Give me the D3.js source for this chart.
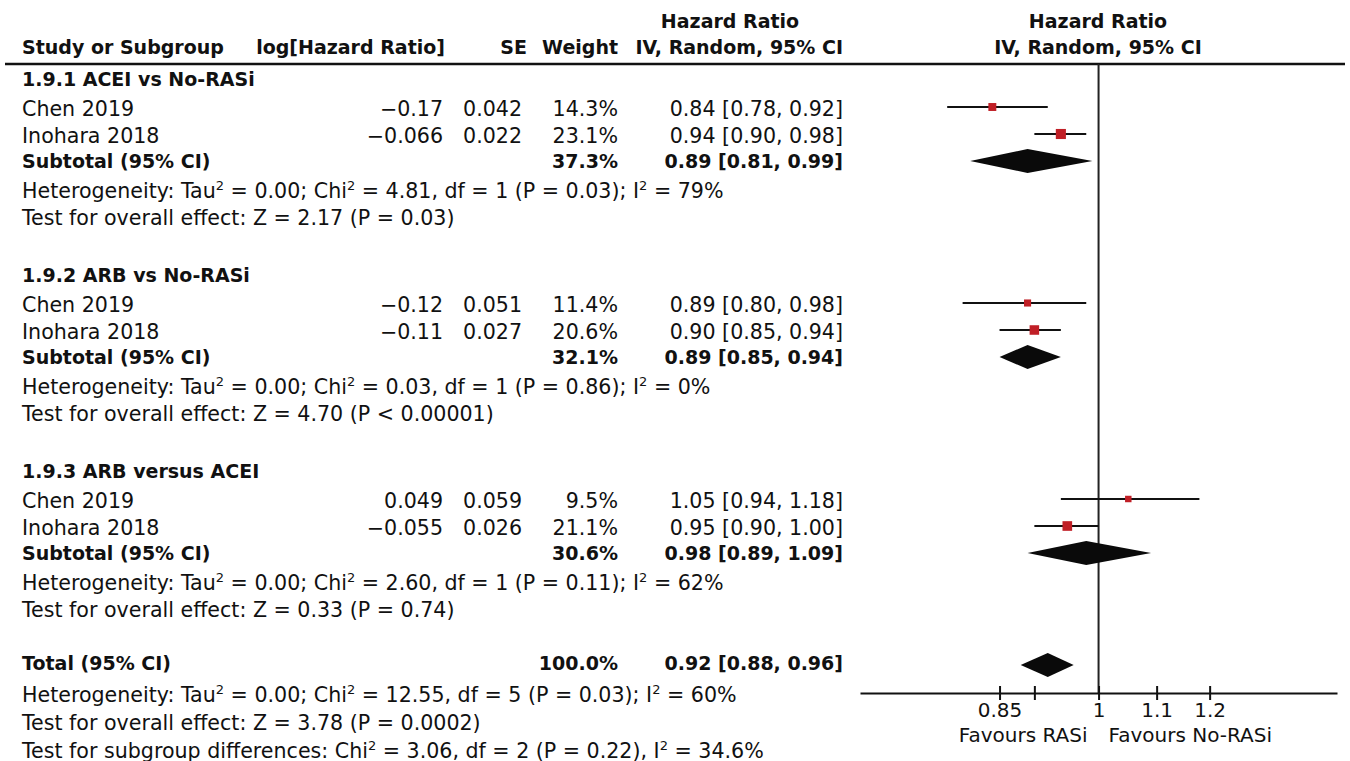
<!DOCTYPE html>
<html>
<head>
<meta charset="utf-8">
<script src="https://cdn.jsdelivr.net/npm/d3@7"></script>
<style>
  body { margin: 0; background: #fff; }
  svg text { font-family: "DejaVu Sans", sans-serif; fill: #111; }
  .bold { font-weight: bold; }
</style>
</head>
<body>
<svg id="chart"></svg>
<script>
// ---- data ----
var groupNames = ["1.9.1 ACEI vs No-RASi", "1.9.2 ARB vs No-RASi", "1.9.3 ARB versus ACEI"];
var studyNames = ["Chen 2019", "Inohara 2018"];
var logHR   = [["-0.17", "-0.066"], ["-0.12", "-0.11"], ["0.049", "-0.055"]];
var seVals  = [["0.042", "0.022"], ["0.051", "0.027"], ["0.059", "0.026"]];
var weights = [[14.3, 23.1], [11.4, 20.6], [9.5, 21.1]];
var hr      = [[0.84, 0.94], [0.89, 0.90], [1.05, 0.95]];
var hrLow   = [[0.78, 0.90], [0.80, 0.85], [0.94, 0.90]];
var hrHigh  = [[0.92, 0.98], [0.98, 0.94], [1.18, 1.00]];

var subWeight = [37.3, 32.1, 30.6];
var subHR     = [0.89, 0.89, 0.98];
var subLow    = [0.81, 0.85, 0.89];
var subHigh   = [0.99, 0.94, 1.09];
var subHet = [
  "Heterogeneity: Tau^2 = 0.00; Chi^2 = 4.81, df = 1 (P = 0.03); I^2 = 79%",
  "Heterogeneity: Tau^2 = 0.00; Chi^2 = 0.03, df = 1 (P = 0.86); I^2 = 0%",
  "Heterogeneity: Tau^2 = 0.00; Chi^2 = 2.60, df = 1 (P = 0.11); I^2 = 62%"
];
var subEffect = [
  "Test for overall effect: Z = 2.17 (P = 0.03)",
  "Test for overall effect: Z = 4.70 (P < 0.00001)",
  "Test for overall effect: Z = 0.33 (P = 0.74)"
];

var totalWeight = 100.0, totalHR = 0.92, totalLow = 0.88, totalHigh = 0.96;
var totalNotes = [
  "Heterogeneity: Tau^2 = 0.00; Chi^2 = 12.55, df = 5 (P = 0.03); I^2 = 60%",
  "Test for overall effect: Z = 3.78 (P = 0.0002)",
  "Test for subgroup differences: Chi^2 = 3.06, df = 2 (P = 0.22), I^2 = 34.6%"
];

var axisTicks  = [0.85, 0.9, 1, 1.1, 1.2];
var axisLabels = ["0.85", "", "1", "1.1", "1.2"];
var favours = ["Favours RASi", "Favours No-RASi"];

// ---- layout ----
var w = 1350, h = 761;
var fs = 20.6, fsBold = 19;
var col = { study: 22, logHR: 443, se: 522, weight: 618, ci: 843 };
var axisY = 693, ruleY = 64;
var red = "#c01f26";

var svg = d3.select("#chart").attr("width", w).attr("height", h);

var x = d3.scaleLog().domain([0.676, 1.479]).range([860, 1337]);

var fmtW = d3.format(".1f");
function ci(m, lo, hi) { return m.toFixed(2) + " [" + lo.toFixed(2) + ", " + hi.toFixed(2) + "]"; }
function minus(s) { return s.replace("-", "\u2212"); }

// text with "^2" written as a raised small 2
function addText(str, xx, yy, anchor, bold, size) {
  var t = svg.append("text")
    .attr("x", xx).attr("y", yy)
    .attr("text-anchor", anchor || "start")
    .style("font-size", (size || (bold ? fsBold : fs)) + "px");
  if (bold) t.attr("class", "bold");
  var parts = str.split("^2");
  parts.forEach(function(p, i) {
    var s = t.append("tspan").text(p);
    if (i > 0) s.attr("dy", 8);
    if (i < parts.length - 1) {
      t.append("tspan").attr("dy", -8).style("font-size", "13px").text("2");
    }
  });
  return t;
}

// header
addText("Hazard Ratio", 730, 28, "middle", true);
addText("Hazard Ratio", 1098, 28, "middle", true);
addText("Study or Subgroup", col.study, 54, "start", true);
addText("log[Hazard Ratio]", 445, 54, "end", true);
addText("SE", 527, 54, "end", true);
addText("Weight", col.weight, 54, "end", true);
addText("IV, Random, 95% CI", col.ci, 54, "end", true);
addText("IV, Random, 95% CI", 1098, 54, "middle", true);

svg.append("line")
  .attr("x1", 5).attr("x2", 1345).attr("y1", ruleY).attr("y2", ruleY)
  .attr("stroke", "#111").attr("stroke-width", 2.5);

// rows
var studies = [], subtotals = [];
groupNames.forEach(function(g, gi) {
  var base = 86 + gi * 196;
  addText(g, col.study, base, "start", true);
  studyNames.forEach(function(s, si) {
    var yy = base + 30 + si * 27;
    addText(s, col.study, yy);
    addText(minus(logHR[gi][si]), col.logHR, yy, "end");
    addText(seVals[gi][si], col.se, yy, "end");
    addText(fmtW(weights[gi][si]) + "%", col.weight, yy, "end");
    addText(ci(hr[gi][si], hrLow[gi][si], hrHigh[gi][si]), col.ci, yy, "end");
    studies.push({ y: yy - 9, hr: hr[gi][si], lo: hrLow[gi][si], hi: hrHigh[gi][si], w: weights[gi][si] });
  });
  var sy = base + 82;
  addText("Subtotal (95% CI)", col.study, sy, "start", true);
  addText(fmtW(subWeight[gi]) + "%", col.weight, sy, "end", true);
  addText(ci(subHR[gi], subLow[gi], subHigh[gi]), col.ci, sy, "end", true);
  subtotals.push({ y: sy - 7, hr: subHR[gi], lo: subLow[gi], hi: subHigh[gi] });
  addText(subHet[gi], col.study, base + 112);
  addText(subEffect[gi], col.study, base + 139);
});

var ty = 86 + 2 * 196 + 139 + 53;
addText("Total (95% CI)", col.study, ty, "start", true);
addText(fmtW(totalWeight) + "%", col.weight, ty, "end", true);
addText(ci(totalHR, totalLow, totalHigh), col.ci, ty, "end", true);
subtotals.push({ y: ty - 5, hr: totalHR, lo: totalLow, hi: totalHigh });
totalNotes.forEach(function(n, i) { addText(n, col.study, ty + 32 + i * 28); });

// line of no effect
svg.append("line")
  .attr("x1", x(1)).attr("x2", x(1)).attr("y1", ruleY).attr("y2", axisY)
  .attr("stroke", "#222").attr("stroke-width", 2);

// study CIs and squares
svg.selectAll(".ci").data(studies).enter().append("line")
  .attr("x1", function(d) { return x(d.lo); })
  .attr("x2", function(d) { return x(d.hi); })
  .attr("y1", function(d) { return d.y; })
  .attr("y2", function(d) { return d.y; })
  .attr("stroke", "#111").attr("stroke-width", 1.8);

svg.selectAll(".sq").data(studies).enter().append("rect")
  .attr("x", function(d) { return x(d.hr) - 1.05 * Math.sqrt(d.w); })
  .attr("y", function(d) { return d.y - 1.05 * Math.sqrt(d.w); })
  .attr("width", function(d) { return 2.1 * Math.sqrt(d.w); })
  .attr("height", function(d) { return 2.1 * Math.sqrt(d.w); })
  .attr("fill", red);

// diamonds
svg.selectAll(".dia").data(subtotals).enter().append("path")
  .attr("d", function(d) {
    return "M" + x(d.lo) + "," + d.y + "L" + x(d.hr) + "," + (d.y - 12) +
      "L" + x(d.hi) + "," + d.y + "L" + x(d.hr) + "," + (d.y + 12) + "Z";
  })
  .attr("fill", "#0a0a0a");

// axis
var axis = svg.append("g")
  .attr("transform", "translate(0," + axisY + ")")
  .call(d3.axisBottom(x)
    .tickValues(axisTicks)
    .tickFormat(function(d, i) { return axisLabels[i]; })
    .tickSizeInner(7).tickSizeOuter(0).tickPadding(3));
axis.select(".domain").attr("stroke", "#111").attr("stroke-width", 2);
axis.selectAll(".tick line").attr("y1", -7).attr("stroke", "#111").attr("stroke-width", 2);
axis.selectAll(".tick text")
  .style("font-family", "'DejaVu Sans', sans-serif").style("font-size", "20px").attr("fill", "#111");

addText(favours[0], x(1) - 11, 742, "end", false, 20);
addText(favours[1], x(1) + 10, 742, "start", false, 20);
</script>
</body>
</html>
